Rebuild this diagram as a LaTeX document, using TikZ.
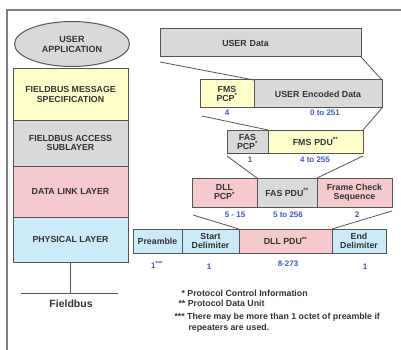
\documentclass[tikz,border=0pt]{standalone}
\usepackage{fontspec}
\setmainfont{Liberation Sans}
\usetikzlibrary{shapes, positioning, calc}
\definecolor{fmsyellow}{RGB}{255, 255, 204}
\definecolor{fasgray}{RGB}{217, 217, 217}
\definecolor{dllpink}{RGB}{246, 201, 206}
\definecolor{phyblue}{RGB}{204, 234, 248}
\definecolor{numblue}{RGB}{60, 90, 200}
\definecolor{linegray}{RGB}{85, 85, 85}

\begin{document}
\begin{tikzpicture}[
  x=1pt, y=-1pt,
  layer/.style={draw=linegray, line width=1pt, minimum width=115pt, outer sep=0pt, align=center, font=\fontsize{8.8}{9.5}\selectfont\bfseries, text=black!80},
  field/.style={draw=linegray, line width=1pt, outer sep=0pt, inner sep=1pt, align=center, font=\fontsize{8.8}{9}\selectfont\bfseries, text=black!80},
  num/.style={font=\fontsize{8}{8}\selectfont\bfseries, text=numblue},
  note/.style={anchor=west, font=\fontsize{8.8}{9}\selectfont\bfseries, text=black!80},
  link/.style={draw=linegray, line width=0.8pt},
]
  \useasboundingbox (0,0) rectangle (401,350);
  \draw[gray, line width=1.5pt] (7,350) -- (7,10) -- (401,10);

  % protocol stack
  \node[ellipse, draw=linegray, line width=1pt, fill=fasgray, minimum width=115pt, minimum height=45pt, inner sep=0pt, align=center, font=\fontsize{9}{10}\selectfont\bfseries, text=black!80] (app) at (72,44) {USER\\APPLICATION};
  \node[layer, fill=fmsyellow, minimum height=51pt] (fms) at (70.5,94.5) {FIELDBUS MESSAGE\\SPECIFICATION};
  \node[layer, fill=fasgray, minimum height=46pt, below=0pt of fms] (fas) {FIELDBUS ACCESS\\SUBLAYER};
  \node[layer, fill=dllpink, minimum height=51pt, below=0pt of fas] (dll) {DATA LINK LAYER};
  \node[layer, fill=phyblue, minimum height=45pt, below=0pt of dll] (phy) {PHYSICAL LAYER};
  \coordinate (busl) at (21,293);
  \coordinate (busr) at (118,293);
  \draw[link, line width=1pt] (phy.south) -- (phy.south |- busl);
  \draw[link, line width=1pt] (busl) -- (busr);
  \node[note, anchor=center, font=\fontsize{10.5}{11}\selectfont\bfseries] (bus) at (71,304) {Fieldbus};

  % user data
  \node[field, fill=fasgray, minimum width=201pt, minimum height=28pt] (udata) at (260.5,43) {USER\,\,Data\hspace{30pt}};

  % FMS
  \node[field, fill=fmsyellow, minimum width=54pt, minimum height=28pt] (fmspcp) at (227,94) {FMS\\PCP\textsuperscript{*}};
  \node[field, fill=fasgray, minimum width=128pt, minimum height=28pt, right=0pt of fmspcp] (encdata) {USER\,\,Encoded Data};
  \node[num] (nfmspcp) at (227,113) {4};
  \node[num] (nencdata) at (325,113) {0 to 251};

  % FAS
  \node[field, fill=fasgray, minimum width=41pt, minimum height=23pt] (faspcp) at (247.5,141.5) {FAS\\PCP\textsuperscript{*}};
  \node[field, fill=fmsyellow, minimum width=95pt, minimum height=23pt, right=0pt of faspcp] (fmspdu) {FMS\,\,PDU\textsuperscript{**}};
  \node[num] (nfaspcp) at (250,160) {1};
  \node[num] (nfmspdu) at (315,160) {4 to 255};

  % DLL
  \node[field, fill=dllpink, minimum width=65pt, minimum height=29pt] (dllpcp) at (224.5,192.5) {DLL\\PCP\textsuperscript{*}};
  \node[field, fill=fasgray, minimum width=60pt, minimum height=29pt, right=0pt of dllpcp] (faspdu) {FAS PDU\textsuperscript{**}};
  \node[field, fill=dllpink, minimum width=75pt, minimum height=29pt, right=0pt of faspdu] (fcs) {Frame Check\\Sequence};
  \node[num] (ndllpcp) at (235,215) {5 - 15};
  \node[num] (nfaspdu) at (288,215) {5 to 256};
  \node[num] (nfcs) at (357,215) {2};

  % physical
  \node[field, fill=phyblue, minimum width=49pt, minimum height=24pt] (pre) at (157.5,241) {Preamble};
  \node[field, fill=phyblue, minimum width=57pt, minimum height=24pt, right=0pt of pre] (sdelim) {Start\\Delimiter};
  \node[field, fill=dllpink, minimum width=93pt, minimum height=24pt, right=0pt of sdelim] (dllpdu) {DLL PDU\textsuperscript{**}};
  \node[field, fill=phyblue, minimum width=54pt, minimum height=24pt, right=0pt of dllpdu] (edelim) {End\\Delimiter};
  \node[num] (npre) at (157,265) {1\textsuperscript{***}};
  \node[num] (nsdelim) at (209,267) {1};
  \node[num] (ndllpdu) at (288,264) {8-273};
  \node[num] (nedelim) at (365,267) {1};

  % encapsulation
  \draw[link] ($(udata.south west)+(0,5)$) -- (fmspcp.north east);
  \draw[link] (udata.south east) -- (encdata.north east);
  \draw[link] ($(fmspcp.south west)+(2,8)$) -- (fmspdu.north west);
  \draw[link] (encdata.south east) -- (fmspdu.north east);
  \draw[link] ($(faspcp.south west)+(0,3)$) -- (faspdu.north west);
  \draw[link] ($(fmspdu.south east)+(0,3)$) -- (faspdu.north east);
  \draw[link] ($(dllpcp.south west)+(1,8)$) -- (dllpdu.north west);
  \draw[link] ($(fcs.south east)+(0,4)$) -- (dllpdu.north east);

  % notes
  \node[note] (note1) at (178,293) {* Protocol Control Information};
  \node[note] (note2) at (175,303) {** Protocol Data Unit};
  \node[note] (note3) at (171,317) {*** There may be more than 1 octet of preamble if};
  \node[note] (note4) at (185,328) {repeaters are used.};
\end{tikzpicture}
\end{document}
